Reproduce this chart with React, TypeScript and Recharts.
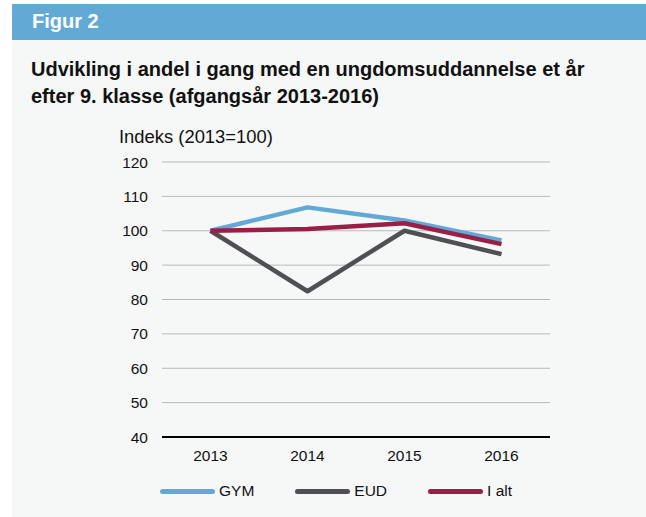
import React from 'react';
import { LineChart, Line, XAxis, YAxis, CartesianGrid, Legend } from 'recharts';

const years = [2013, 2014, 2015, 2016];
const gym = [100, 106.8, 103.0, 97.2];
const eud = [100, 82.4, 100.0, 93.2];
const total = [100, 100.5, 102.2, 96.1];
const yTicks = [40, 50, 60, 70, 80, 90, 100, 110, 120];
const xBoundaries = [2012.5, 2013.5, 2014.5, 2015.5, 2016.5];
const seriesKeys = ['gym', 'eud', 'total'];
const seriesNames = ['GYM', 'EUD', 'I alt'];
const seriesColors = ['#63a9d5', '#4f4f54', '#9a1f46'];

const data = years.map((year, i) => ({ year, gym: gym[i], eud: eud[i], total: total[i] }));

const FONT = '"Liberation Sans", Arial, Helvetica, sans-serif';

const LegendContent = () => (
  <div style={{ display: 'flex', alignItems: 'center', height: 32, fontFamily: FONT, fontSize: 15.5, color: '#111' }}>
    {seriesNames.map((name, i) => (
      <div key={name} style={{ display: 'flex', alignItems: 'center', marginRight: 41 }}>
        <span style={{ display: 'inline-block', width: 55, height: 5, borderRadius: 3, background: seriesColors[i], marginRight: 4 }} />
        <span>{name}</span>
      </div>
    ))}
  </div>
);

export default function App() {
  return (
    <div style={{ position: 'absolute', left: 0, top: 0, width: 646, height: 517, background: '#ffffff', fontFamily: FONT, overflow: 'hidden' }}>
      <div style={{ position: 'absolute', left: 12, top: 4, width: 634, height: 36, background: '#63a9d5' }} />
      <div style={{ position: 'absolute', left: 32, top: 9, color: '#fff', fontWeight: 'bold', fontSize: 20, lineHeight: '24px' }}>Figur 2</div>
      <div style={{ position: 'absolute', left: 12, top: 40, width: 634, height: 477, background: '#f6f7f7' }} />
      <div style={{ position: 'absolute', left: 31, top: 56, width: 565, color: '#111', fontWeight: 'bold', fontSize: 20, lineHeight: '27px' }}>
        Udvikling i andel i gang med en ungdomsuddannelse et år efter 9. klasse (afgangsår 2013-2016)
      </div>
      <div style={{ position: 'absolute', left: 119, top: 126, color: '#111', fontSize: 18.4, lineHeight: '22px', whiteSpace: 'nowrap' }}>Indeks (2013=100)</div>
      <div style={{ position: 'absolute', left: 0, top: 150 }}>
        <LineChart width={646} height={367} data={data} margin={{ top: 12, right: 96, bottom: 10, left: 0 }}>
          <CartesianGrid horizontal={true} vertical={false} stroke="#b8b8b8" strokeWidth={1} yAxisId="y" xAxisId="bounds" />
          <YAxis
            yAxisId="y"
            type="number"
            domain={[40, 120]}
            ticks={yTicks}
            width={162}
            axisLine={false}
            tickLine={false}
            tickSize={6}
            tickMargin={8}
            tick={{ fill: '#111', fontSize: 15.5, fontFamily: FONT }}
          />
          <XAxis
            xAxisId="bounds"
            dataKey="year"
            type="number"
            domain={[2012.5, 2016.5]}
            ticks={xBoundaries}
            allowDataOverflow
            height={8}
            axisLine={{ stroke: '#000', strokeWidth: 2 }}
            tickLine={{ stroke: '#000', strokeWidth: 1.5 }}
            tickSize={6}
            tick={false}
          />
          <XAxis
            xAxisId="labels"
            dataKey="year"
            type="number"
            domain={[2012.5, 2016.5]}
            ticks={years}
            allowDataOverflow
            height={30}
            axisLine={false}
            tickLine={false}
            tickSize={0}
            tickMargin={5}
            tick={{ fill: '#111', fontSize: 15.5, fontFamily: FONT }}
          />
          <Legend
            verticalAlign="bottom"
            content={<LegendContent />}
            wrapperStyle={{ left: 160, width: 450, height: 32 }}
          />
          {seriesKeys.map((k, i) => (
            <Line
              key={k}
              xAxisId="bounds"
              yAxisId="y"
              type="linear"
              dataKey={k}
              name={seriesNames[i]}
              stroke={seriesColors[i]}
              strokeWidth={4.5}
              dot={false}
              activeDot={false}
              isAnimationActive={false}
              strokeLinejoin="round"
            />
          ))}
        </LineChart>
      </div>
    </div>
  );
}
